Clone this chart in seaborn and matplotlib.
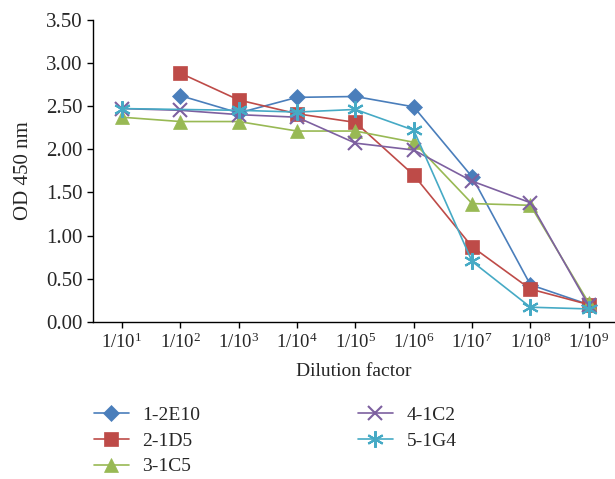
import numpy as np
import pandas as pd
import matplotlib
matplotlib.use("Agg")
import matplotlib.pyplot as plt
import seaborn as sns

dilutions = ["1/10$^{1}$", "1/10$^{2}$", "1/10$^{3}$", "1/10$^{4}$", "1/10$^{5}$",
             "1/10$^{6}$", "1/10$^{7}$", "1/10$^{8}$", "1/10$^{9}$"]
series_names = ["1-2E10", "2-1D5", "3-1C5", "4-1C2", "5-1G4"]
s_1_2E10 = [np.nan, 2.62, 2.42, 2.60, 2.61, 2.49, 1.68, 0.43, 0.20]
s_2_1D5 = [np.nan, 2.88, 2.57, 2.41, 2.31, 1.70, 0.87, 0.38, 0.20]
s_3_1C5 = [2.37, 2.32, 2.32, 2.21, 2.21, 2.08, 1.37, 1.35, 0.22]
s_4_1C2 = [2.47, 2.45, 2.40, 2.37, 2.07, 1.99, 1.63, 1.38, 0.19]
s_5_1G4 = [2.47, np.nan, 2.45, 2.43, 2.46, 2.22, 0.70, 0.17, 0.15]
y_ticks = [0.0, 0.5, 1.0, 1.5, 2.0, 2.5, 3.0, 3.5]

colors = ["#4a7ebb", "#be4b48", "#98b954", "#7d60a0", "#46aac5"]
markers = ["D", "s", "^", "x", (6, 2, 0)]
msizes = [8, 10, 10, 10, 12]

sns.set_style("ticks")
plt.rcParams["font.family"] = ["Liberation Serif", "DejaVu Serif"]
plt.rcParams["mathtext.fontset"] = "custom"
plt.rcParams["mathtext.rm"] = "Liberation Serif"
plt.rcParams["mathtext.it"] = "Liberation Serif:italic"

all_vals = [s_1_2E10, s_2_1D5, s_3_1C5, s_4_1C2, s_5_1G4]
rows = []
for name, vals in zip(series_names, all_vals):
    for i, v in enumerate(vals):
        rows.append({"x": i, "y": v, "series": name})
df = pd.DataFrame(rows).dropna()

fig = plt.figure(figsize=(6.15, 4.79), dpi=100)
ax = fig.add_axes([0.151, 0.328, 0.849, 0.631])

for name, c, m, ms in zip(series_names, colors, markers, msizes):
    sub = df[df["series"] == name]
    sns.lineplot(data=sub, x="x", y="y", ax=ax, color=c, marker=m,
                 markersize=ms, linewidth=1.2, label=name,
                 markeredgecolor=c, markeredgewidth=1.5 if m in ("x", (6, 2, 0)) else 0.5,
                 markerfacecolor=c)

ax.set_xlim(-0.5, 8.45)
ax.set_ylim(0, 3.5)
ax.set_xticks(range(len(dilutions)))
ax.set_xticklabels(dilutions)
ax.set_yticks(y_ticks)
ax.set_yticklabels([f"{t:.2f}" for t in y_ticks])
ax.tick_params(axis="x", labelsize=13.5, length=4, width=1, color="black")
ax.tick_params(axis="y", labelsize=15, length=4, width=1, color="black")
ax.set_xlabel("Dilution factor", fontsize=14, labelpad=8)
ax.set_ylabel("OD 450 nm", fontsize=15, labelpad=9)
for sp in ["top", "right"]:
    ax.spines[sp].set_visible(False)
for sp in ["left", "bottom"]:
    ax.spines[sp].set_color("black")
    ax.spines[sp].set_linewidth(1.0)

handles, labels = ax.get_legend_handles_labels()
ax.get_legend().remove()
fig.legend(handles, labels, ncol=2, loc="upper left", bbox_to_anchor=(0.14, 0.168),
           frameon=False, fontsize=14, handlelength=1.8, columnspacing=8.1,
           labelspacing=0.42, handletextpad=0.7, borderaxespad=0)
fig.savefig("out.png", dpi=100)
